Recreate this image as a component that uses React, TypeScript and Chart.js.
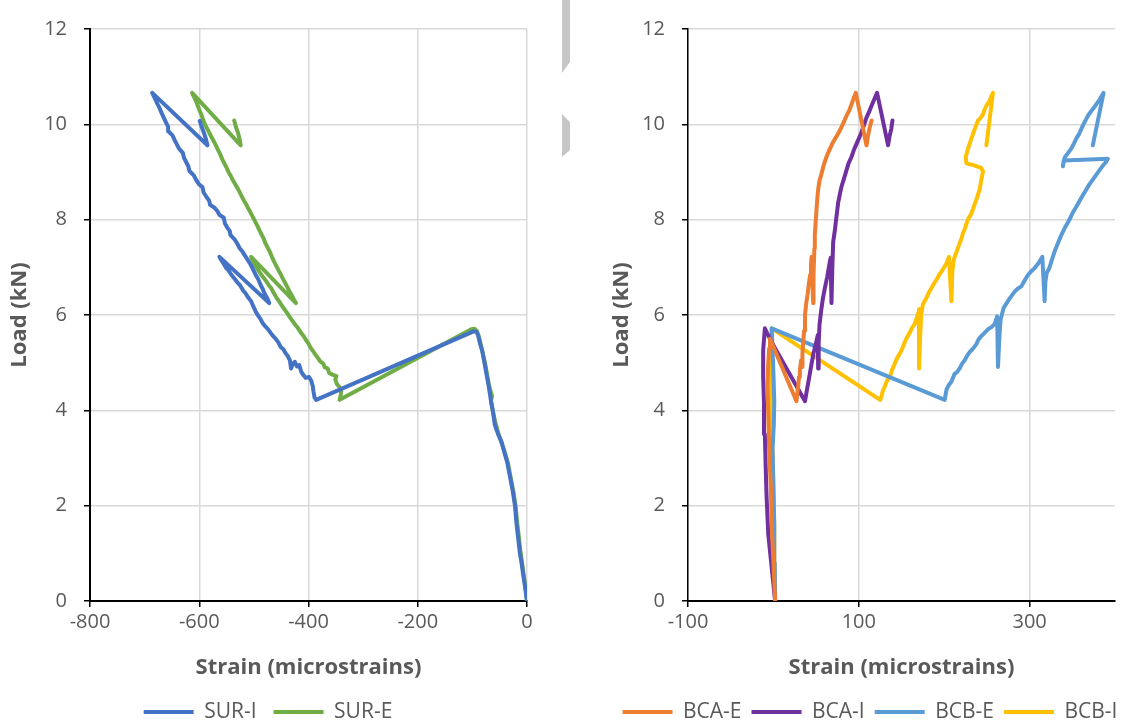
import React, { useEffect, useRef } from "react";
import { Chart, registerables } from "chart.js";
Chart.register(...registerables);

type P = [number, number];

// ---------- Left chart (SUR) : [strain, load] ----------
const surI: P[] = [
  [0, 0], [-3, 0.25], [-7, 0.55], [-10, 0.8], [-13, 1.0], [-16, 1.3], [-19, 1.6], [-22, 2.0],
  [-26, 2.3], [-31, 2.6], [-36, 2.9], [-41, 3.1], [-47, 3.35], [-53, 3.5], [-59, 3.7], [-62, 3.95],
  [-66, 4.2], [-70, 4.5], [-74, 4.75], [-78, 5.0], [-82, 5.25], [-86, 5.4], [-89, 5.55], [-92, 5.64],
  [-97, 5.66], [-103, 5.63], [-386, 4.22],
  [-389, 4.27], [-391, 4.4], [-392, 4.5], [-395, 4.62], [-399, 4.7], [-405, 4.68], [-410, 4.75],
  [-413, 4.8], [-417, 4.95], [-421, 4.92], [-425, 5.02], [-429, 4.96], [-432, 4.88], [-434, 5.05],
  [-438, 5.14], [-442, 5.2], [-446, 5.28], [-451, 5.33], [-455, 5.42], [-460, 5.5], [-465, 5.56],
  [-469, 5.62], [-474, 5.7], [-479, 5.76], [-484, 5.83], [-488, 5.92], [-493, 6.0], [-497, 6.08],
  [-501, 6.18], [-505, 6.29], [-510, 6.36], [-515, 6.45], [-520, 6.52], [-525, 6.62], [-530, 6.68],
  [-536, 6.77], [-541, 6.84], [-546, 6.93], [-551, 6.99], [-555, 7.07], [-559, 7.14], [-563, 7.22],
  [-472, 6.25],
  [-475, 6.34], [-480, 6.44], [-484, 6.55], [-488, 6.64], [-492, 6.75], [-497, 6.85], [-502, 6.97],
  [-506, 7.06], [-511, 7.15], [-516, 7.24], [-521, 7.33], [-526, 7.4], [-530, 7.49], [-535, 7.58],
  [-543, 7.68], [-544, 7.76], [-549, 7.84], [-553, 7.92], [-555, 8.04], [-563, 8.1], [-567, 8.18],
  [-572, 8.25], [-580, 8.31], [-582, 8.4], [-587, 8.48], [-592, 8.57], [-594, 8.68], [-601, 8.75],
  [-606, 8.84], [-610, 8.93], [-618, 9.02], [-620, 9.12], [-624, 9.21], [-628, 9.3], [-630, 9.4],
  [-637, 9.49], [-641, 9.58], [-645, 9.67], [-649, 9.77], [-656, 9.85], [-657, 9.95], [-661, 10.04],
  [-665, 10.14], [-669, 10.24], [-673, 10.35], [-677, 10.44], [-681, 10.54], [-684, 10.61], [-686, 10.66],
  [-585, 9.56], [-588, 9.7], [-592, 9.84], [-596, 9.96], [-599, 10.07],
];

const surE: P[] = [
  [0, 0], [-3, 0.3], [-6, 0.55], [-9, 0.8], [-12, 1.05], [-15, 1.35], [-18, 1.65], [-21, 2.0],
  [-25, 2.3], [-30, 2.6], [-35, 2.9], [-40, 3.1], [-46, 3.3], [-52, 3.5], [-58, 3.75], [-62, 3.95],
  [-66, 4.2], [-64, 4.3], [-69, 4.5], [-73, 4.75], [-76, 4.95], [-79, 5.1], [-83, 5.3], [-86, 5.45],
  [-89, 5.58], [-92, 5.67], [-96, 5.71], [-102, 5.7], [-343, 4.22],
  [-341, 4.32], [-340, 4.42], [-344, 4.5], [-348, 4.55], [-351, 4.65], [-349, 4.72], [-356, 4.75],
  [-362, 4.78], [-365, 4.88], [-370, 4.9], [-373, 4.98], [-378, 5.02], [-383, 5.1], [-388, 5.18],
  [-392, 5.25], [-396, 5.31], [-400, 5.4], [-405, 5.48], [-409, 5.56], [-414, 5.63], [-419, 5.72],
  [-424, 5.79], [-429, 5.87], [-434, 5.95], [-439, 6.04], [-444, 6.12], [-449, 6.2], [-454, 6.29],
  [-459, 6.37], [-464, 6.47], [-468, 6.56], [-473, 6.63], [-478, 6.72], [-483, 6.79], [-488, 6.87],
  [-492, 6.94], [-496, 7.01], [-500, 7.1], [-503, 7.16], [-505, 7.22],
  [-423, 6.25],
  [-427, 6.33], [-431, 6.42], [-435, 6.5], [-439, 6.59], [-443, 6.68], [-447, 6.76], [-451, 6.86],
  [-455, 6.94], [-459, 7.03], [-463, 7.12], [-467, 7.22], [-471, 7.33], [-475, 7.42], [-479, 7.51],
  [-482, 7.6], [-486, 7.69], [-490, 7.78], [-494, 7.88], [-498, 7.97], [-503, 8.08], [-507, 8.17],
  [-511, 8.25], [-515, 8.34], [-520, 8.44], [-524, 8.53], [-528, 8.62], [-533, 8.72], [-538, 8.82],
  [-542, 8.91], [-546, 8.99], [-550, 9.09], [-554, 9.18], [-558, 9.27], [-562, 9.38], [-566, 9.47],
  [-570, 9.57], [-574, 9.66], [-578, 9.74], [-582, 9.83], [-586, 9.92], [-590, 10.01], [-593, 10.1],
  [-596, 10.2], [-599, 10.28], [-602, 10.37], [-605, 10.46], [-608, 10.54], [-611, 10.61], [-613, 10.66],
  [-524, 9.56], [-526, 9.68], [-529, 9.82], [-533, 9.95], [-536, 10.08],
];

// ---------- Right chart (BCA / BCB) : [strain, load] ----------
const bcaE: P[] = [
  [2, 0], [0, 0.8], [-2, 1.6], [-3, 2.4], [-5, 3.2], [-6, 3.9], [-7, 4.5], [-6, 5.0], [-5, 5.3], [-4, 5.5],
  [27, 4.19], [28, 4.35], [29, 4.5], [30, 4.7], [31, 4.85], [32.5, 5.05], [34, 4.91], [34, 5.2], [35, 5.45],
  [36, 5.67], [37, 6.01], [38.5, 6.25], [40, 6.43], [41.5, 6.65], [43, 6.84], [44, 7.05], [44.7, 7.22],
  [46.6, 6.25], [47, 6.85], [48, 7.4], [48.5, 7.67], [49.5, 7.95], [50.5, 8.22], [51.5, 8.45], [52.4, 8.63],
  [54, 8.82], [56.4, 8.97], [59, 9.15], [62.2, 9.32], [66, 9.48], [70, 9.63], [74, 9.75], [77.8, 9.87],
  [82, 10.03], [85.6, 10.18], [89, 10.3], [91.5, 10.42], [94, 10.55], [96.5, 10.66],
  [109, 9.56], [111, 9.78], [113, 9.95], [115, 10.08],
];

const bcaI: P[] = [
  [2, 0], [-2, 0.7], [-6, 1.4], [-8, 2.2], [-9, 2.8], [-10, 3.5], [-11, 4.15], [-12, 4.7], [-12, 5.25],
  [-10, 5.72], [-3, 5.46], [37, 4.19], [39, 4.4], [40.7, 4.57], [43, 4.8], [44.7, 4.98], [47, 5.2],
  [50, 5.42], [52, 5.58], [52.4, 4.88], [53, 5.4], [54, 5.8], [56, 6.1], [58, 6.35], [60.2, 6.56],
  [63, 6.8], [66, 7.11], [67, 7.2], [68, 6.25], [69, 7.0], [70, 7.53], [72, 7.78], [73, 7.94],
  [75.8, 8.35], [78, 8.55], [79.8, 8.7], [83, 8.88], [85.6, 9.04], [88, 9.18], [91.5, 9.32], [94, 9.45],
  [97.3, 9.59], [100, 9.7], [103, 9.83], [106, 9.98], [109, 10.14], [112, 10.26], [114.9, 10.39],
  [118, 10.52], [121.4, 10.66], [134.3, 9.56], [136, 9.75], [138, 9.9], [139.4, 10.08],
];

const bcbE: P[] = [
  [2, 0], [1.5, 0.8], [1, 1.6], [0, 2.4], [-1, 3.2], [0.5, 3.7], [1, 4.2], [0, 4.8], [-1, 5.3], [-2, 5.72],
  [200.6, 4.22], [202.6, 4.43], [205, 4.52], [208.4, 4.6], [212.3, 4.77], [215, 4.8], [218.1, 4.88],
  [221, 4.98], [224, 5.05], [227, 5.15], [229.8, 5.22], [234, 5.3], [237.7, 5.39], [240, 5.48],
  [243.5, 5.56], [247, 5.62], [251.2, 5.7], [255, 5.74], [259, 5.81], [262, 5.97], [263, 4.91],
  [264.5, 5.5], [266, 5.9], [269.6, 6.15], [274.6, 6.29], [278, 6.38], [282.5, 6.49], [286, 6.55],
  [290.3, 6.6], [294, 6.72], [298, 6.84], [302, 6.92], [305.8, 6.98], [311, 7.1], [314.9, 7.22],
  [317.6, 6.29], [318.5, 6.7], [320, 6.88], [323, 6.98], [326, 7.15], [329, 7.32], [333, 7.5],
  [337, 7.67], [341, 7.82], [344.8, 7.94], [348, 8.05], [350.6, 8.15], [355, 8.28], [358.5, 8.39],
  [362, 8.5], [366.3, 8.63], [370, 8.74], [374, 8.84], [378, 8.94], [381.9, 9.04], [386, 9.14],
  [389, 9.2], [391.6, 9.28], [340, 9.24], [339, 9.12], [341, 9.3], [345, 9.4], [348.8, 9.49],
  [352, 9.6], [354.6, 9.7], [358, 9.8], [360.5, 9.9], [363, 10.0], [366.3, 10.11], [369, 10.2],
  [372.2, 10.28], [375, 10.34], [378, 10.42], [382, 10.52], [386.6, 10.66], [374, 9.56],
];

const bcbI: P[] = [
  [2, 0], [1.5, 0.8], [1, 1.6], [0, 2.4], [-1, 3.2], [-2, 3.8], [-3, 4.3], [-4, 4.6], [-3, 5.0],
  [-2.5, 5.4], [-2, 5.72], [125, 4.22], [126.5, 4.29], [128, 4.4], [130.4, 4.5], [133, 4.62],
  [136.3, 4.7], [139, 4.85], [142.1, 4.98], [145, 5.1], [148, 5.19], [151, 5.3], [153.8, 5.43],
  [157, 5.55], [159.7, 5.63], [163, 5.75], [165.5, 5.81], [168, 5.95], [171, 6.12], [170.5, 4.88],
  [172, 5.6], [173, 6.0], [175, 6.22], [179.2, 6.36], [182, 6.47], [185, 6.56], [188, 6.66],
  [190.9, 6.74], [194, 6.84], [196.7, 6.91], [200, 7.0], [202.6, 7.08], [205.6, 7.22], [208.4, 6.29],
  [209.5, 6.9], [211, 7.15], [214.3, 7.32], [217, 7.45], [220.1, 7.6], [222, 7.72], [224, 7.8],
  [227.9, 8.01], [231, 8.1], [233.7, 8.22], [236, 8.34], [237.7, 8.42], [240, 8.55], [241.5, 8.63],
  [243.5, 8.84], [245.4, 9.01], [243, 9.09], [238, 9.12], [233.7, 9.15], [228, 9.17], [226, 9.19],
  [225.2, 9.32], [227.9, 9.49], [230, 9.6], [231.8, 9.7], [235.7, 9.9], [239.6, 10.08], [242, 10.12],
  [245.4, 10.21], [247, 10.3], [249.4, 10.39], [253.2, 10.49], [255, 10.58], [257.1, 10.66], [249.4, 9.56],
];

const leftStrainTicks = [-800, -600, -400, -200, 0];
const rightStrainTicks = [-100, 100, 300];
const loadTicks = [0, 2, 4, 6, 8, 10, 12];

const FONT = "'Open Sans', 'Noto Sans', sans-serif";
const TXT = "#595959";
const GRID = "#d9d9d9";

function ds(label: string, data: P[], color: string) {
  return {
    label,
    data: data.map(([x, y]) => ({ x, y })),
    showLine: true,
    borderColor: color,
    backgroundColor: color,
    borderWidth: 4,
    pointRadius: 0,
    pointHoverRadius: 0,
    tension: 0,
    borderJoinStyle: "round" as const,
    borderCapStyle: "round" as const,
  };
}

function makeConfig(opts: {
  datasets: any[];
  xMin: number;
  xMax: number;
  xTicks: number[];
  yAxisWidth: number;
  yTitlePad: number;
  yBorder: number;
  rightGap: number;
  legendPad: number;
}) {
  // legend: height = font(21) + pad + 10, text centre = top + pad + 10.5 -> aim 712
  const legendTop = 712 - opts.legendPad - 10.5;
  const xHeight = legendTop - 601;
  const titlePb = legendTop - 13.2 - 668;
  const bottomPad = 740 - (legendTop + 21 + opts.legendPad + 10);
  return {
    type: "scatter" as const,
    data: { datasets: opts.datasets },
    options: {
      responsive: false,
      animation: false as const,
      devicePixelRatio: 1,
      layout: { padding: { top: 20, bottom: bottomPad, left: 0, right: 0 } },
      plugins: {
        tooltip: { enabled: false },
        legend: {
          position: "bottom" as const,
          labels: {
            usePointStyle: true,
            pointStyle: "line",
            pointStyleWidth: 50,
            padding: opts.legendPad,
            color: TXT,
            font: { family: FONT, size: 21 },
          },
        },
      },
      scales: {
        x: {
          type: "linear" as const,
          min: opts.xMin,
          max: opts.xMax,
          afterBuildTicks: (s: any) => {
            s.ticks = opts.xTicks.map((v) => ({ value: v }));
          },
          afterFit: (s: any) => {
            s.height = xHeight;
          },
          grid: { color: GRID, lineWidth: 1.5, tickColor: "#000", tickLength: 6, drawTicks: true },
          border: { color: "#000", width: 2 },
          ticks: { color: TXT, font: { family: FONT, size: 20 }, padding: 3, maxRotation: 0 },
          title: {
            display: true,
            text: "Strain (microstrains)",
            color: TXT,
            font: { family: FONT, size: 22, weight: "bold" as const },
            padding: { top: 0, bottom: titlePb },
          },
        },
        y: {
          type: "linear" as const,
          min: 0,
          max: 12,
          afterBuildTicks: (s: any) => {
            s.ticks = loadTicks.map((v) => ({ value: v }));
          },
          afterFit: (s: any) => {
            s.width = opts.yAxisWidth;
          },
          grid: { color: GRID, lineWidth: 1.5, tickColor: "#000", tickLength: 6, drawTicks: true },
          border: { color: "#000", width: opts.yBorder },
          ticks: { color: TXT, font: { family: FONT, size: 20 }, padding: 17 },
          title: {
            display: true,
            text: "Load (kN)",
            color: TXT,
            font: { family: FONT, size: 22, weight: "bold" as const },
            padding: { top: opts.yTitlePad, bottom: 0 },
          },
        },
        // empty spacer axis on the right so the legend can use the full canvas width
        gap: {
          type: "linear" as const,
          position: "right" as const,
          min: 0,
          max: 1,
          grid: { display: false, drawTicks: false },
          ticks: { display: false },
          border: { display: false },
          title: { display: false },
          afterFit: (s: any) => {
            s.width = opts.rightGap;
          },
        },
      },
    },
  };
}

export default function App() {
  const leftRef = useRef<HTMLCanvasElement>(null);
  const rightRef = useRef<HTMLCanvasElement>(null);

  useEffect(() => {
    const left = new Chart(
      leftRef.current as HTMLCanvasElement,
      makeConfig({
        datasets: [ds("SUR-I", surI, "#4472C4"), ds("SUR-E", surE, "#70AD47")],
        xMin: -800,
        xMax: 0,
        xTicks: leftStrainTicks,
        yAxisWidth: 90,
        yTitlePad: 7,
        yBorder: 2,
        rightGap: 9,
        legendPad: 17,
      }) as any
    );
    const right = new Chart(
      rightRef.current as HTMLCanvasElement,
      makeConfig({
        datasets: [
          ds("BCA-E", bcaE, "#ED7D31"),
          ds("BCA-I", bcaI, "#7030A0"),
          ds("BCB-E", bcbE, "#5B9BD5"),
          ds("BCB-I", bcbI, "#FFC000"),
        ],
        xMin: -100,
        xMax: 400,
        xTicks: rightStrainTicks,
        yAxisWidth: 81,
        yTitlePad: 2,
        yBorder: 1.5,
        rightGap: 18,
        legendPad: 10,
      }) as any
    );
    return () => {
      left.destroy();
      right.destroy();
    };
  }, []);

  return (
    <div
      style={{
        position: "fixed",
        left: 0,
        top: 0,
        width: 1133,
        height: 724,
        overflow: "hidden",
        background: "#fff",
      }}
    >
      <canvas ref={leftRef} width={536} height={740} style={{ position: "absolute", left: 0, top: 0 }} />
      <canvas ref={rightRef} width={526} height={740} style={{ position: "absolute", left: 607, top: 0 }} />
      <div
        style={{
          position: "absolute",
          left: 562,
          top: 0,
          width: 8,
          height: 73,
          background: "#c6c6c6",
          clipPath: "polygon(0 0, 100% 0, 100% 85%, 0 100%)",
        }}
      />
      <div
        style={{
          position: "absolute",
          left: 562,
          top: 114,
          width: 8,
          height: 43,
          background: "#c6c6c6",
          clipPath: "polygon(0 0, 100% 19%, 100% 84%, 0 100%)",
        }}
      />
    </div>
  );
}
